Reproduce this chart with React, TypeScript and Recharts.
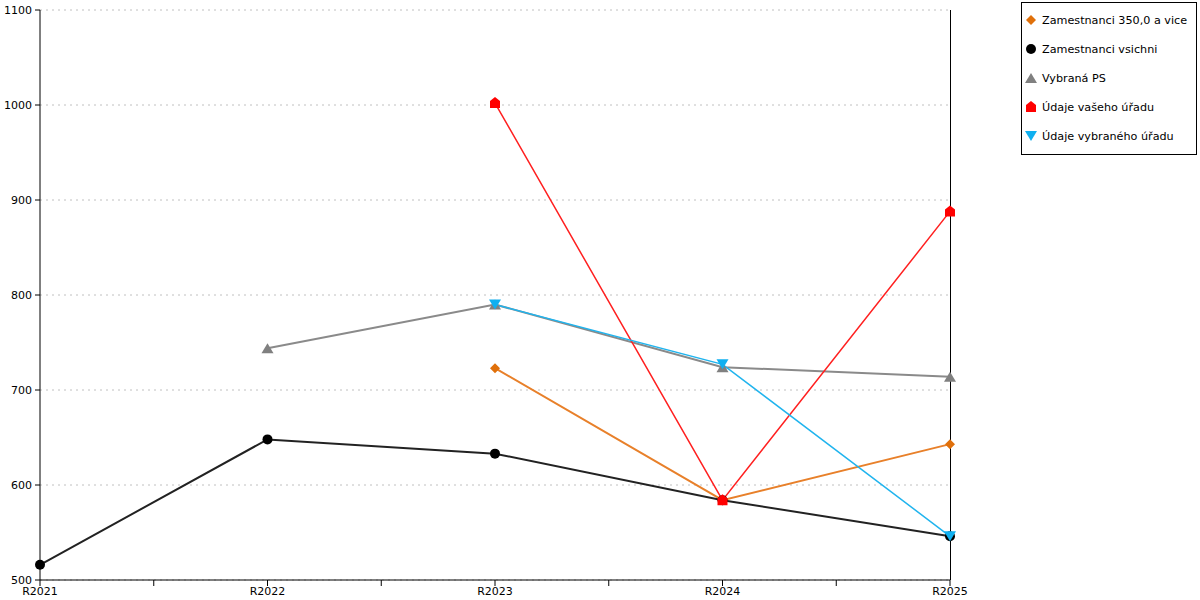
import React from "react";
import { CartesianGrid, Line, LineChart, ReferenceLine, XAxis, YAxis } from "recharts";

const categories = ["R2021", "R2022", "R2023", "R2024", "R2025"];
const zam350 = [null, null, 723, 584, 643];
const zamVsichni = [516, 648, 633, 584, 546];
const vybranaPS = [null, 744, 790, 724, 714];
const vasUrad = [null, null, 1002, 584, 888];
const vybranyUrad = [null, null, 790, 727, 546];
const yTicks = [500, 600, 700, 800, 900, 1000, 1100];
const xTicks = [0, 0.5, 1, 1.5, 2, 2.5, 3, 3.5, 4];

const data = categories.map((name, i) => ({
  x: i,
  name,
  zam350: zam350[i],
  zamVsichni: zamVsichni[i],
  vybranaPS: vybranaPS[i],
  vasUrad: vasUrad[i],
  vybranyUrad: vybranyUrad[i],
}));

type Shape = "diamond" | "circle" | "triangle" | "house" | "down";

function marker(shape: Shape, cx: number, cy: number, fill: string, s = 5) {
  switch (shape) {
    case "diamond":
      return <polygon points={`${cx},${cy - s} ${cx + s},${cy} ${cx},${cy + s} ${cx - s},${cy}`} fill={fill} />;
    case "circle":
      return <circle cx={cx} cy={cy} r={s} fill={fill} />;
    case "triangle":
      return <polygon points={`${cx},${cy - s} ${cx + s + 1},${cy + s} ${cx - s - 1},${cy + s}`} fill={fill} />;
    case "down":
      return <polygon points={`${cx - s - 1},${cy - s} ${cx + s + 1},${cy - s} ${cx},${cy + s}`} fill={fill} />;
    case "house":
      return (
        <polygon
          points={`${cx},${cy - s - 1} ${cx + s},${cy - 2} ${cx + s},${cy + s} ${cx - s},${cy + s} ${cx - s},${cy - 2}`}
          fill={fill}
        />
      );
  }
}

const series: Array<{ key: string; name: string; color: string; line: string; width: number; shape: Shape }> = [
  { key: "zam350", name: "Zamestnanci 350,0 a vice", color: "#E0700A", line: "#E8802A", width: 2, shape: "diamond" },
  { key: "zamVsichni", name: "Zamestnanci vsichni", color: "#000000", line: "#222222", width: 2, shape: "circle" },
  { key: "vybranaPS", name: "Vybraná PS", color: "#808080", line: "#8A8A8A", width: 2, shape: "triangle" },
  { key: "vasUrad", name: "Údaje vašeho úřadu", color: "#FF0000", line: "#FF2020", width: 1.5, shape: "house" },
  { key: "vybranyUrad", name: "Údaje vybraného úřadu", color: "#10B0F0", line: "#20B4EE", width: 1.5, shape: "down" },
];

function LegendBox() {
  return (
    <div
      style={{
        position: "absolute",
        left: 1021,
        top: 2,
        width: 176,
        height: 153,
        border: "1px solid #000",
        background: "#fff",
        boxSizing: "border-box",
        fontFamily: "DejaVu Sans",
        fontSize: 11.2,
        color: "#000",
      }}
    >
      {series.map((s, i) => (
        <div key={s.key} style={{ position: "absolute", left: 0, top: 9 + i * 29, height: 16, display: "flex", alignItems: "center" }}>
          <svg width={18} height={16} style={{ marginLeft: 0 }}>
            {marker(s.shape, 9, 8, s.color, 5)}
          </svg>
          <span style={{ marginLeft: 2, whiteSpace: "nowrap" }}>{s.name}</span>
        </div>
      ))}
    </div>
  );
}

const tickStyle = { fontFamily: "DejaVu Sans", fontSize: 11, fill: "#000" };

export default function App() {
  return (
    <div style={{ position: "absolute", left: 0, top: 0, width: 1200, height: 600, background: "#fff" }}>
      <LineChart width={1200} height={600} data={data} margin={{ top: 10, right: 250, bottom: 0, left: 0 }}>
        <CartesianGrid vertical={false} stroke="#c0c0c0" strokeDasharray="2 4" />
        <XAxis
          dataKey="x"
          type="number"
          domain={[0, 4]}
          ticks={xTicks}
          tickFormatter={(v: number) => (Number.isInteger(v) ? categories[v] : "")}
          tick={tickStyle}
          tickSize={6}
          tickMargin={1}
          height={20}
          stroke="#000"
          interval={0}
        />
        <YAxis
          domain={[500, 1100]}
          ticks={yTicks}
          tick={tickStyle}
          tickSize={5}
          tickMargin={3}
          width={40}
          stroke="#000"
          interval={0}
        />
        <ReferenceLine x={4} stroke="#000" strokeWidth={1} strokeOpacity={1} shapeRendering="crispEdges" />
        {series.map((s) => (
          <Line
            key={s.key}
            dataKey={s.key}
            name={s.name}
            stroke={s.line}
            strokeWidth={s.width}
            isAnimationActive={false}
            connectNulls={false}
            dot={(p: any) =>
              p.value == null ? <g key={p.index} /> : <g key={p.index}>{marker(s.shape, p.cx, p.cy, s.color, 5)}</g>
            }
            activeDot={false}
          />
        ))}
      </LineChart>
      <LegendBox />
    </div>
  );
}
